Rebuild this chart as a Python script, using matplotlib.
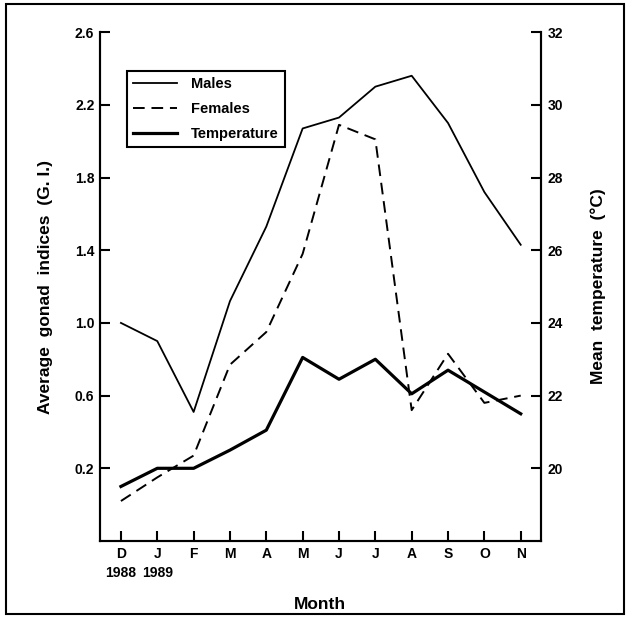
import matplotlib.pyplot as plt
from matplotlib.patches import Rectangle

plt.rcParams['font.family'] = ['Liberation Sans', 'DejaVu Sans']
plt.rcParams['font.weight'] = 'bold'

# datos
months = ['D\n1988', 'J\n1989', 'F', 'M', 'A', 'M', 'J', 'J', 'A', 'S', 'O', 'N']
males = [1.00, 0.90, 0.51, 1.12, 1.53, 2.07, 2.13, 2.30, 2.36, 2.10, 1.72, 1.43]
females = [0.02, 0.15, 0.27, 0.77, 0.95, 1.38, 2.09, 2.01, 0.52, 0.83, 0.56, 0.60]
temperature = [19.5, 20.0, 20.0, 20.5, 21.05, 23.05, 22.45, 23.0, 22.05, 22.7, 22.1, 21.5]
gi_ticks = [0.2, 0.6, 1.0, 1.4, 1.8, 2.2, 2.6]
temp_ticks = [20, 22, 24, 26, 28, 30, 32]

fig = plt.figure(figsize=(6.28, 6.18), dpi=100)
ax = fig.add_axes([0.159, 0.1246, 0.702, 0.8234])
ax2 = ax.twinx()

x = list(range(len(months)))
l1, = ax.plot(x, males, color='black', lw=1.3, label='Males')
l2, = ax.plot(x, females, color='black', lw=1.4, dashes=(6, 3.5), label='Females')
l3, = ax2.plot(x, temperature, color='black', lw=2.3, label='Temperature')

ax.set_xlim(-0.58, 11.55)
ax.set_ylim(-0.2, 2.6)
ax2.set_ylim(18, 32)

ax.set_xticks(x)
ax.set_xticklabels(months, fontsize=10, fontweight='bold', linespacing=1.5)
ax.set_yticks(gi_ticks)
ax.set_yticklabels([f'{v:.1f}' for v in gi_ticks], fontsize=10, fontweight='bold')
ax2.set_yticks(temp_ticks)
ax2.set_yticklabels([str(v) for v in temp_ticks], fontsize=10, fontweight='bold')

for a in (ax, ax2):
    a.spines['top'].set_visible(False)
    for s in ('left', 'right', 'bottom'):
        a.spines[s].set_linewidth(1.5)
ax.tick_params(axis='both', direction='in', length=7, width=1.5, pad=4)
ax2.tick_params(axis='y', direction='in', length=7, width=1.5, pad=5)

ax.set_xlabel('Month', fontsize=12.5, fontweight='bold', labelpad=12)
ax.set_ylabel('Average  gonad  indices  (G. I.)', fontsize=12.5, fontweight='bold', labelpad=16)
ax2.set_ylabel('Mean  temperature  (°C)', fontsize=12.5, fontweight='bold', labelpad=20)

leg = ax2.legend(handles=[l1, l2, l3], loc='upper left', bbox_to_anchor=(0.045, 0.937),
                 fancybox=False, edgecolor='black', framealpha=1, fontsize=10.5,
                 handlelength=3.0, borderpad=0.4, labelspacing=0.75, handletextpad=1.0)
leg.get_frame().set_linewidth(1.5)

# moldura externa
fig.patches.append(Rectangle((0.009, 0.006), 0.985, 0.988, transform=fig.transFigure,
                             fill=False, edgecolor='black', lw=1.5))

fig.savefig('out.png', dpi=100)
